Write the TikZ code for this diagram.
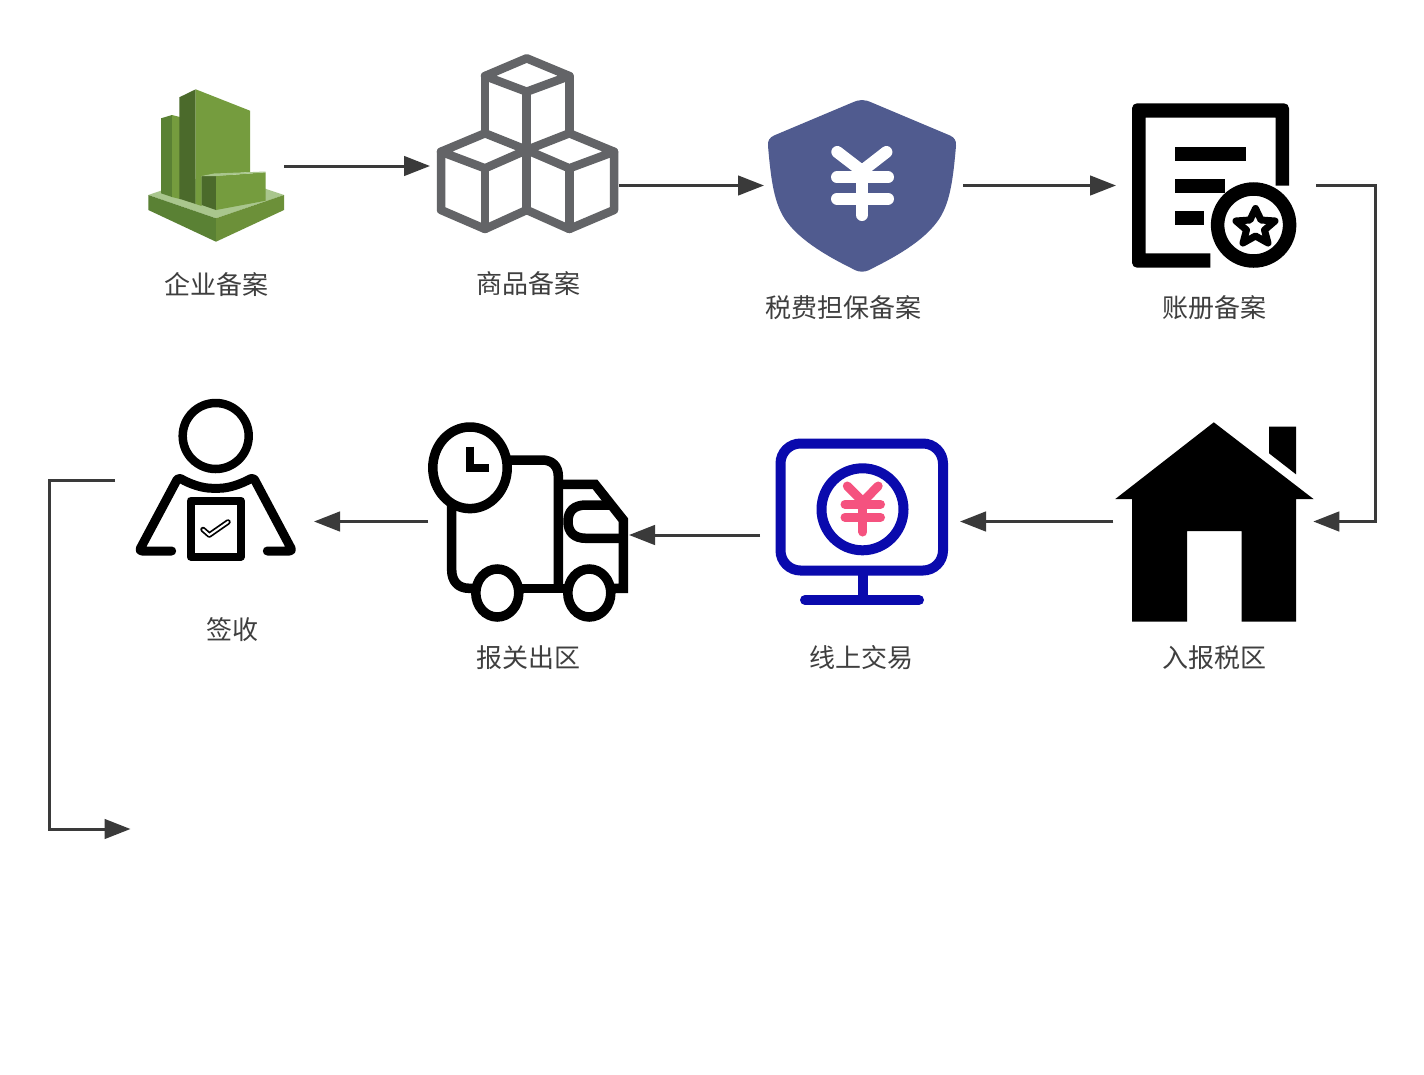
\documentclass[tikz,border=0pt]{standalone}
\usepackage{fontspec}
\newfontfamily\cjk{Noto Sans CJK SC}
\usetikzlibrary{arrows.meta,calc}
\definecolor{txt}{HTML}{3F3F3F}
\definecolor{lnk}{HTML}{3A3A3A}
\definecolor{gl}{HTML}{759C3E}
\definecolor{gd}{HTML}{4B6A2B}
\definecolor{gb}{HTML}{5A8134}
\definecolor{gt}{HTML}{A9C68D}
\definecolor{cube}{HTML}{636467}
\definecolor{shield}{HTML}{505B8F}
\definecolor{mon}{HTML}{0A0AAD}
\definecolor{pink}{HTML}{F5527F}
\tikzset{
  iconbox/.style={inner sep=0pt,outer sep=0pt,minimum width=#1},
  lab/.style={inner sep=0pt,font=\cjk\fontsize{26}{30}\selectfont,text=txt},
  conn/.style={draw=lnk,line width=3pt,-{Triangle[length=26pt,width=19.5pt]}},
  cubeline/.style={draw=cube,line width=8.5pt,line join=round,line cap=round},
  yenw/.style={draw=white,line width=12pt,line cap=round,line join=round},
  yenp/.style={draw=pink,line width=9pt,line cap=round,line join=round},
  ink/.style={draw=black,line width=9.5pt,line join=round},
  blue/.style={draw=mon,line width=10pt}
}
\begin{document}
\begin{tikzpicture}[x=1pt,y=-1pt]
\useasboundingbox (0,0) rectangle (1424,1074);
\fill[white] (0,0) rectangle (1424,1074);

% anchors of the icons
\node[iconbox=136pt,minimum height=152pt] (ent) at (216,166) {};
\node[iconbox=182pt,minimum height=178pt] (goods) at (528,144) {};
\node[iconbox=190pt,minimum height=172pt] (shieldn) at (862,185.5) {};
\node[iconbox=165pt,minimum height=165pt] (ledger) at (1214.5,185.5) {};
\node[iconbox=198pt,minimum height=200pt] (house) at (1214.3,521.5) {};
\node[iconbox=173pt,minimum height=166pt] (monitor) at (861.5,521.5) {};
\node[iconbox=200pt,minimum height=201pt] (truck) at (528,521.5) {};
\node[iconbox=161pt,minimum height=160pt] (person) at (215.5,480) {};

% enterprise building
\fill[gt] (148.3,195) -- (216,172) -- (284,195) -- (216,218.3) -- cycle;
\fill[gb] (148.3,195) -- (216,218.3) -- (216,241.7) -- (148.3,210) -- cycle;
\fill[gl!92!black] (216,218.3) -- (284,195) -- (284,210) -- (216,241.7) -- cycle;
\fill[gb] (161,118.3) -- (172,115) -- (172,197) -- (161,193.3) -- cycle;
\fill[gl] (172,115) -- (180,117) -- (180,199) -- (172,197) -- cycle;
\fill[gd] (179.3,97.3) -- (195.7,89.3) -- (195.7,204) -- (179.3,198.7) -- cycle;
\fill[gl] (195.7,89.3) -- (250,110.7) -- (250,172) -- (201.7,176) -- (201.7,206) -- (195.7,204) -- cycle;
\fill[gd] (201.7,176) -- (216,176) -- (216,210) -- (201.7,205) -- cycle;
\fill[gl] (216,176) -- (265.7,172.3) -- (265.7,200.7) -- (216,210) -- cycle;
\fill[gt] (201.7,176) -- (214,173.5) -- (265.7,171.5) -- (265.7,172.3) -- (216,176) -- cycle;

% cubes
\draw[cubeline] (526.7,58.3) -- (569.3,76) -- (526.7,91.7) -- (485,76) -- cycle;
\draw[cubeline] (485,76) -- (485,133.3) (526.7,91.7) -- (526.7,210) (569.3,76) -- (569.3,133.3);
\draw[cubeline] (485,133.3) -- (441,151.7) -- (485,168.3) -- (526.7,150) -- (569.3,168.3) -- (614,151.7) -- (569.3,133.3) -- (526.7,150) -- (485,133.3);
\draw[cubeline] (441,151.7) -- (441,210) -- (485,229) -- (526.7,210) -- (569.3,229) -- (614,210) -- (614,151.7);
\draw[cubeline] (485,168.3) -- (485,229) (569.3,168.3) -- (569.3,229);

% shield
\fill[shield] (862,100) .. controls (858,100) and (856,101) .. (850,103.5) -- (774,135.5)
  .. controls (770,137.5) and (767.5,140) .. (768,146)
  .. controls (771,180) and (774,205) .. (787,222)
  .. controls (804,245) and (839,262) .. (856,270.5)
  .. controls (859,272) and (865,272) .. (868,270.5)
  .. controls (885,262) and (920,245) .. (937,222)
  .. controls (950,205) and (953,180) .. (956,146)
  .. controls (956.5,140) and (954,137.5) .. (950,135.5) -- (874,103.5)
  .. controls (868,101) and (866,100) .. (862,100) -- cycle;
\draw[yenw] (837.3,152) -- (862,171) -- (886.4,152);
\draw[yenw] (837,177.3) -- (888,177.3) (837,198.7) -- (888,198.7) (862,171) -- (862,215);

% ledger
\fill[black] (1210.4,267.7) [rounded corners=5pt] -- (1132,267.7) -- (1132,103.3) -- (1289,103.3) [sharp corners] -- (1289,185.7) -- (1275.5,185.7) -- (1275.5,117.7) -- (1145.6,117.7) -- (1145.6,253.3) -- (1210.4,253.3) -- cycle;
\fill[black] (1174.7,146.7) rectangle (1246,161);
\fill[black] (1174.7,179) rectangle (1225.3,193.3);
\fill[black] (1174.7,210.7) rectangle (1203.5,225);
\draw[draw=black,fill=white,line width=13.5pt] (1253.6,225) circle[radius=36];
\draw[black,fill=white,line width=7pt,line join=round]
  (1255.5,208.5) -- (1261,220) -- (1275,221) -- (1264.5,230) -- (1268,243)
  -- (1255.5,236) -- (1243,243) -- (1246.5,230) -- (1236,221) -- (1250,220) -- cycle;

% house
\fill[black] (1213.8,422.3) -- (1313.5,499) -- (1296,499) -- (1296,621.7) -- (1241.5,621.7) -- (1241.5,531) -- (1187,531) -- (1187,621.7) -- (1132,621.7) -- (1132,499) -- (1115.3,499) -- cycle;
\fill[black] (1269,426.7) -- (1296,426.7) -- (1296,474.3) -- (1269,453.3) -- cycle;

% monitor
\draw[blue,rounded corners=20pt] (780.5,443.5) rectangle (943,570.5);
\draw[blue] (862.5,570.5) -- (862.5,600);
\draw[blue,line cap=round] (805,600) -- (919,600);
\draw[blue] (862.5,509.3) circle[radius=41];
\draw[yenp] (847.3,486) -- (862.9,501.7) -- (878.2,486);
\draw[yenp] (845,504.3) -- (880.5,504.3) (845,517.3) -- (880.5,517.3) (862.9,501.7) -- (862.9,532);

% truck
\draw[ink] (505,460) -- (542,460) .. controls (552,460) and (558.3,466) .. (558.3,476) -- (558.3,588.3);
\draw[ink] (451.7,500) -- (451.7,570) .. controls (451.7,581) and (458,588.3) .. (469,588.3) -- (478,588.3);
\draw[ink] (515,588.3) -- (570,588.3);
\draw[ink,line join=miter] (558,484.3) -- (595,484.3) -- (623.3,520) -- (623.3,588.3) -- (606,588.3);
\draw[ink] (610,505) -- (586,505) .. controls (574,505) and (568,511) .. (568,521.5) .. controls (568,532) and (574,538.3) .. (586,538.3) -- (623.3,538.3);
\draw[draw=black,fill=white,line width=9.5pt] (497.3,593) ellipse[x radius=21.5,y radius=24];
\draw[draw=black,fill=white,line width=9.5pt] (589.3,593) ellipse[x radius=21.5,y radius=24];
\draw[draw=black,fill=white,line width=9.5pt] (470,467.8) ellipse[x radius=37.2,y radius=40.8];
\draw[black,line width=8pt,line join=miter] (470,446.7) -- (470,467.8) -- (489.3,467.8);

% person
\draw[black,line width=8.5pt] (215.7,436) circle[radius=33];
\draw[ink,line width=9pt,line cap=round,rounded corners=3pt] (171.7,551) -- (139,551) -- (178.3,477.3)
  .. controls (190,484) and (202,488.3) .. (215.7,488.3)
  .. controls (229,488.3) and (241,484) .. (253.3,477.3) -- (292.5,551) -- (267.3,551);
\draw[black,line width=8pt,line join=round] (190.7,500.7) rectangle (241,556.7);
\draw[black,line width=5.5pt,line cap=round,line join=round] (203,529.5) -- (209.3,535) -- (228,522);
\draw[white,line width=2pt,line cap=round,line join=round] (203,529.5) -- (209.3,535) -- (228,522);

% labels
\node[lab] (t1) at (216,284) {企业备案};
\node[lab] (t2) at (528,284) {商品备案};
\node[lab] (t3) at (843,308) {税费担保备案};
\node[lab] (t4) at (1214,308) {账册备案};
\node[lab] (t5) at (1214,658) {入报税区};
\node[lab] (t6) at (861.5,658) {线上交易};
\node[lab] (t7) at (528,658) {报关出区};
\node[lab] (t8) at (232,630) {签收};

% connectors
\coordinate (rr) at (1375,350);
\coordinate (ll) at (49,650);
\coordinate (finish) at (130.5,829);
\coordinate (mt) at ([yshift=-13.5pt]monitor.west);
\draw[conn,shorten >=7pt] (ent.east) -- (goods.west |- ent.east);
\draw[conn,shorten >=3pt] (goods.east |- shieldn.west) -- (shieldn.west);
\draw[conn,shorten <=6pt,shorten >=16pt] (shieldn.east) -- (ledger.west);
\draw[conn,shorten <=19pt] (ledger.east) -| (rr) |- (house.east);
\draw[conn,shorten <=2pt,shorten >=12pt] (house.west) -- (monitor.east);
\draw[conn,shorten <=15pt,shorten >=1pt] (mt) -- (truck.east |- mt);
\draw[conn,shorten >=18pt] (truck.west) -- (person.east |- truck.west);
\draw[conn,shorten <=20pt] (person.west) -| (ll) |- (finish);
\end{tikzpicture}
\end{document}
